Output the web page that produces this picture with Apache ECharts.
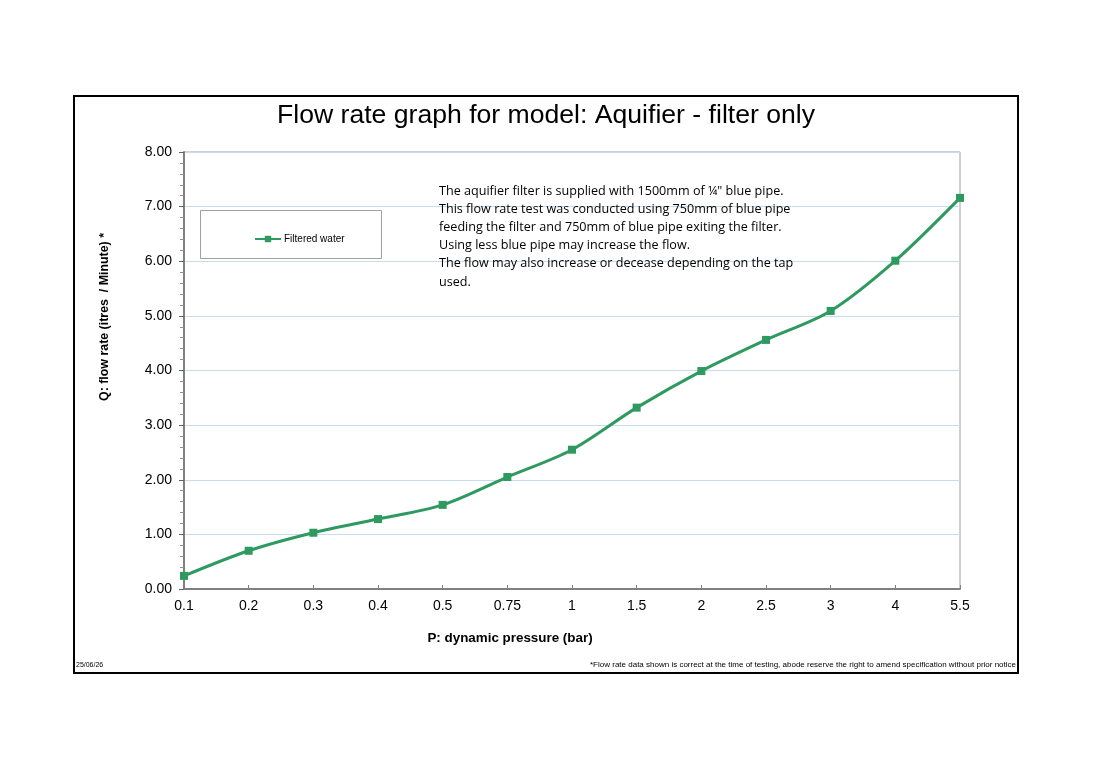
<!DOCTYPE html>
<html>
<head>
    <meta charset="utf-8">
    <script src="https://cdn.jsdelivr.net/npm/echarts@6/dist/echarts.min.js"></script>
    <style type="text/css">
        html, body { width: 100%; height: 100%; margin: 0; background: #fff; }
        #chart { width: 1098px; height: 759px; }
    </style>
</head>
<body>
<div id="chart"></div>
<script type="text/javascript">
    // pressure (bar) - x categories
    var pressure = ['0.1', '0.2', '0.3', '0.4', '0.5', '0.75', '1', '1.5', '2', '2.5', '3', '4', '5.5'];
    // flow rate (litres / minute)
    var flowRate = [0.24, 0.70, 1.03, 1.28, 1.54, 2.05, 2.55, 3.32, 3.99, 4.56, 5.09, 6.01, 7.16];
    var seriesName = 'Filtered water';

    var noteLines = [
        'The aquifier filter is supplied with 1500mm of \u00bc" blue pipe.',
        'This flow rate test was conducted using 750mm of blue pipe',
        'feeding the filter and 750mm of blue pipe exiting the filter.',
        'Using less blue pipe may increase the flow.',
        'The flow may also increase or decease depending on the tap',
        'used.'
    ];

    var green = '#2e9a5f';
    var chart = echarts.init(document.getElementById('chart'));

    var option = {
        animation: false,
        title: {
            text: 'Flow rate graph for model: Aquifier - filter only',
            left: 541, top: 97, textAlign: 'center',
            textStyle: { fontFamily: 'Liberation Sans', fontSize: 26.6, fontWeight: 'normal', color: '#000' }
        },
        grid: { left: 184, right: 138, top: 152, bottom: 170, show: true, borderColor: '#a0a0a0', borderWidth: 1 },
        legend: {
            data: [seriesName],
            left: 249, top: 229,
            itemWidth: 26, itemHeight: 8, itemGap: 4,
            textStyle: { fontFamily: 'Liberation Sans', fontSize: 10, color: '#000', padding: [0, 0, 0, -2] }
        },
        xAxis: {
            type: 'category',
            data: pressure,
            boundaryGap: false,
            axisLine: { lineStyle: { color: '#808080', width: 2 } },
            axisTick: { inside: true, length: 4, lineStyle: { color: '#808080' } },
            axisLabel: { fontFamily: 'Liberation Sans', fontSize: 14, color: '#000', margin: 10 },
            splitLine: { show: false }
        },
        yAxis: {
            type: 'value',
            min: 0, max: 8, interval: 1,
            axisLine: { show: true, lineStyle: { color: '#808080', width: 2 } },
            axisTick: { show: true, length: 5, lineStyle: { color: '#606060' } },
            minorTick: { show: true, splitNumber: 5, length: 4, lineStyle: { color: '#909090' } },
            axisLabel: {
                fontFamily: 'Liberation Sans', fontSize: 14, color: '#000', margin: 12,
                formatter: function (v) { return v.toFixed(2); }
            },
            splitLine: { show: true, lineStyle: { color: '#c6dcef', width: 1 } }
        },
        series: [{
            name: seriesName,
            type: 'line',
            data: flowRate,
            smooth: 0.3,
            symbol: 'rect',
            symbolSize: 8,
            itemStyle: { color: green },
            lineStyle: { color: green, width: 3 }
        }],
        graphic: [
            { type: 'rect', shape: { x: 74, y: 96, width: 944, height: 577 }, style: { fill: 'none', stroke: '#000', lineWidth: 2 }, z: -1 },
            { type: 'rect', shape: { x: 200.5, y: 210.5, width: 181, height: 48 }, style: { fill: '#fff', stroke: '#a0a0a0', lineWidth: 1 }, z: 1 },
            {
                type: 'text', left: 439, top: 182, z: 5,
                style: { text: noteLines.join('\n'), fontFamily: 'Open Sans', fontSize: 12.6, lineHeight: 18.2, fill: '#000' }
            },
            {
                type: 'text', x: 105, y: 317, rotation: Math.PI / 2,
                style: { text: 'Q: flow rate (itres  / Minute) *', fontFamily: 'Liberation Sans', fontSize: 12.4, fontWeight: 'bold', fill: '#000', align: 'center', verticalAlign: 'middle' }
            },
            {
                type: 'text', x: 510, y: 638,
                style: { text: 'P: dynamic pressure (bar)', fontFamily: 'Liberation Sans', fontSize: 13.4, fontWeight: 'bold', fill: '#000', align: 'center', verticalAlign: 'middle' }
            },
            {
                type: 'text', left: 76, top: 662,
                style: { text: '25/06/26', fontFamily: 'Liberation Sans', fontSize: 7, fill: '#000' }
            },
            {
                type: 'text', right: 82, top: 661,
                style: { text: '*Flow rate data shown is correct at the time of testing, abode reserve the right to amend specification without prior notice', fontFamily: 'Liberation Sans', fontSize: 8, fill: '#000' }
            }
        ]
    };
    chart.setOption(option);
</script>
</body>
</html>
